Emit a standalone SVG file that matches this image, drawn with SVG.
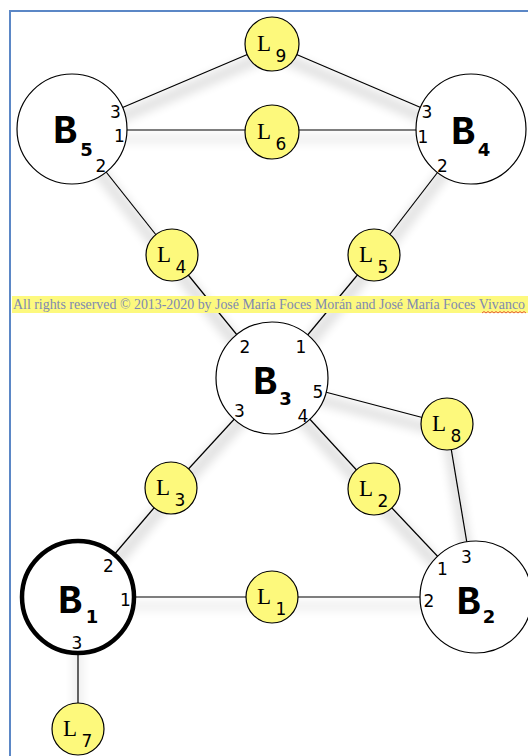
<svg xmlns="http://www.w3.org/2000/svg" width="528" height="756" viewBox="0 0 528 756">
<style>
.bn{fill:#fff;stroke:#000;stroke-width:1.2}
.b1{fill:#fff;stroke:#000;stroke-width:4.5}
.ln{fill:#fdf97c;stroke:#000;stroke-width:1.2}
.bl{font-family:"Liberation Mono",monospace;font-weight:bold;font-size:40px;text-anchor:middle;fill:#000}
.bs{font-family:"DejaVu Sans",sans-serif;font-weight:bold;font-size:18px;text-anchor:middle;fill:#000}
.ll{font-family:"Liberation Serif",serif;font-size:23px;text-anchor:middle;fill:#000}
.ls{font-family:"DejaVu Sans",sans-serif;font-size:17px;text-anchor:middle;fill:#000}
.pt{font-family:"DejaVu Sans",sans-serif;font-size:17px;text-anchor:middle;fill:#000}
.cn line{stroke:#000;stroke-width:1.2}
</style>
<defs>
<filter id="sh" x="-20%" y="-30%" width="140%" height="170%">
<feMorphology in="SourceAlpha" operator="dilate" radius="4" result="d"/>
<feGaussianBlur in="d" stdDeviation="5" result="b"/>
<feOffset in="b" dy="9" result="o"/>
<feComponentTransfer in="o" result="s"><feFuncA type="linear" slope="0.12"/></feComponentTransfer>
<feMerge><feMergeNode in="s"/><feMergeNode in="SourceGraphic"/></feMerge>
</filter>
</defs>
<rect width="528" height="756" fill="#fff"/>
<path d="M10,756 V11 H528" fill="none" stroke="#5b87c6" stroke-width="2"/>
<g id="connectors" class="cn" filter="url(#sh)">
<line x1="72" y1="129" x2="272" y2="44"/>
<line x1="272" y1="44" x2="471" y2="129"/>
<line x1="72" y1="130" x2="471" y2="130"/>
<line x1="72" y1="129" x2="172" y2="255"/>
<line x1="471" y1="129" x2="374" y2="255"/>
<line x1="172" y1="255" x2="272" y2="378"/>
<line x1="374" y1="255" x2="272" y2="378"/>
<line x1="272" y1="378" x2="447" y2="424"/>
<line x1="447" y1="424" x2="476" y2="597"/>
<line x1="272" y1="378" x2="171" y2="488"/>
<line x1="272" y1="378" x2="374" y2="489"/>
<line x1="171" y1="488" x2="78" y2="597"/>
<line x1="374" y1="489" x2="476" y2="597"/>
<line x1="78" y1="597" x2="476" y2="597"/>
<line x1="78" y1="597" x2="78" y2="729"/>
</g>
<g id="watermark">
<rect x="12" y="296" width="516" height="17" fill="#fdf97e"/>
<text x="13" y="309" font-family="Liberation Serif,serif" font-size="14" fill="#8089b2" textLength="512" lengthAdjust="spacingAndGlyphs">All rights reserved © 2013-2020 by José María Foces Morán and José María Foces Vivanco</text>
<path d="M482,313 l2,-1.5 l2,1.5 l2,-1.5 l2,1.5 l2,-1.5 l2,1.5 l2,-1.5 l2,1.5 l2,-1.5 l2,1.5 l2,-1.5 l2,1.5 l2,-1.5 l2,1.5 l2,-1.5 l2,1.5 l2,-1.5 l2,1.5 l2,-1.5 l2,1.5 l2,-1.5 l2,1.5" fill="none" stroke="#e0302a" stroke-width="0.8"/>
</g>
<g id="B5">
<circle class="bn" cx="72" cy="129" r="55"/>
<text class="bl" x="65" y="143">B</text><text class="bs" x="86.5" y="156">5</text>
<text class="pt" x="115.5" y="118">3</text><text class="pt" x="119.5" y="142">1</text><text class="pt" x="101" y="172">2</text>
</g>
<g id="B4">
<circle class="bn" cx="471" cy="129" r="55"/>
<text class="bl" x="463" y="144">B</text><text class="bs" x="484" y="156">4</text>
<text class="pt" x="427" y="118">3</text><text class="pt" x="423" y="143">1</text><text class="pt" x="442.5" y="172">2</text>
</g>
<g id="B3">
<circle class="bn" cx="272" cy="378" r="56"/>
<text class="bl" x="265" y="394">B</text><text class="bs" x="285.5" y="405">3</text>
<text class="pt" x="245" y="353">2</text><text class="pt" x="301" y="353">1</text><text class="pt" x="318" y="398">5</text><text class="pt" x="239.5" y="417">3</text><text class="pt" x="303" y="422">4</text>
</g>
<g id="B1">
<circle class="b1" cx="78" cy="597" r="56"/>
<text class="bl" x="70" y="613">B</text><text class="bs" x="92" y="623">1</text>
<text class="pt" x="108.5" y="572">2</text><text class="pt" x="125.5" y="606">1</text><text class="pt" x="77" y="649">3</text>
</g>
<g id="B2">
<circle class="bn" cx="476" cy="597" r="56"/>
<text class="bl" x="468.5" y="614">B</text><text class="bs" x="489" y="623">2</text>
<text class="pt" x="442.5" y="575">1</text><text class="pt" x="466.5" y="563">3</text><text class="pt" x="429" y="607">2</text>
</g>
<g id="L9"><circle class="ln" cx="272" cy="44" r="27"/><text class="ll" x="264" y="51">L</text><text class="ls" x="281" y="62">9</text></g>
<g id="L6"><circle class="ln" cx="272" cy="132" r="27"/><text class="ll" x="264" y="139">L</text><text class="ls" x="281" y="150">6</text></g>
<g id="L4"><circle class="ln" cx="172" cy="255" r="26"/><text class="ll" x="164" y="262">L</text><text class="ls" x="181" y="273">4</text></g>
<g id="L5"><circle class="ln" cx="374" cy="255" r="26"/><text class="ll" x="366" y="262">L</text><text class="ls" x="383" y="273">5</text></g>
<g id="L8"><circle class="ln" cx="447" cy="424" r="26"/><text class="ll" x="439" y="431">L</text><text class="ls" x="456" y="442">8</text></g>
<g id="L3"><circle class="ln" cx="171" cy="488" r="26"/><text class="ll" x="163" y="495">L</text><text class="ls" x="180" y="506">3</text></g>
<g id="L2"><circle class="ln" cx="374" cy="489" r="26"/><text class="ll" x="366" y="496">L</text><text class="ls" x="383" y="507">2</text></g>
<g id="L1"><circle class="ln" cx="272" cy="597" r="26"/><text class="ll" x="264" y="604">L</text><text class="ls" x="281" y="615">1</text></g>
<g id="L7"><circle class="ln" cx="78" cy="729" r="26"/><text class="ll" x="70" y="736">L</text><text class="ls" x="87" y="747">7</text></g>
</svg>
